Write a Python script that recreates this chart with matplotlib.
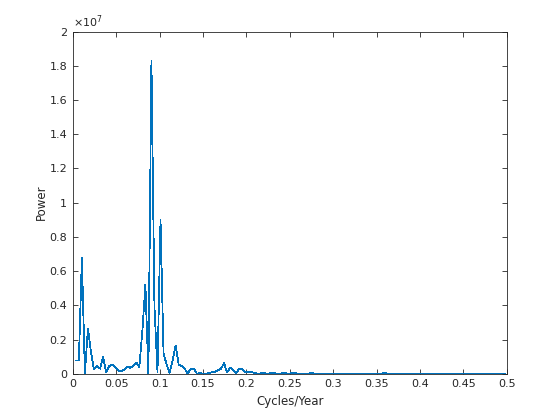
import numpy as np
import matplotlib.pyplot as plt
from matplotlib.ticker import FuncFormatter

# power spectrum of yearly sunspot numbers (units of 1e6)
n_years = 287
k = np.arange(1, 144)
power_1e6 = [
    0.78, 0.78, 6.75, 0.05, 2.65, 1.3, 0.25, 0.45, 0.3, 1.0,
    0.1, 0.45, 0.55, 0.4, 0.2, 0.15, 0.25, 0.42, 0.35, 0.45,
    0.65, 0.4, 2.5, 5.2, 0.0, 18.3, 3.9, 0.1, 9.0, 1.2,
    0.55, 0.05, 0.75, 1.65, 0.55, 0.45, 0.3, 0.02, 0.3, 0.3,
    0.02, 0.03, 0.02, 0.02, 0.03, 0.1, 0.12, 0.2, 0.3, 0.62,
    0.08, 0.35, 0.25, 0.02, 0.3, 0.3, 0.1, 0.12, 0.1, 0.05,
    0.02, 0.01, 0.08, 0.01, 0.02, 0.08, 0.02, 0.01, 0.02, 0.08,
    0.01, 0.02, 0.08, 0.02, 0.01, 0.01, 0.02, 0.01, 0.06, 0.01,
    0.01, 0.02, 0.01, 0.01, 0.01, 0.02, 0.01, 0.01, 0.01, 0.01,
    0.02, 0.01, 0.01, 0.01, 0.01, 0.01, 0.02, 0.01, 0.01, 0.01,
    0.01, 0.01, 0.06, 0.01, 0.01, 0.01, 0.01, 0.01, 0.01, 0.01,
    0.01, 0.01, 0.01, 0.01, 0.01, 0.01, 0.01, 0.01, 0.01, 0.01,
    0.01, 0.01, 0.01, 0.01, 0.01, 0.01, 0.01, 0.01, 0.01, 0.01,
    0.01, 0.01, 0.01, 0.01, 0.01, 0.01, 0.01, 0.01, 0.01, 0.01,
    0.01, 0.01, 0.01,
]
freq = k / n_years
power = np.array(power_1e6) * 1e6

xticks = np.arange(0, 0.51, 0.05)
yticks = np.arange(0, 2.01e7, 0.2e7)

ink = '#262626'
plt.rcParams['font.family'] = 'DejaVu Sans'
fig = plt.figure(figsize=(5.6, 4.2), dpi=100)
ax = fig.add_axes([0.13, 0.11, 0.775, 0.815])
ax.plot(freq, power, color='#0072BD', lw=0.55, antialiased=False)
ax.set_xlim(0, 0.5)
ax.set_ylim(0, 2e7)
ax.set_xticks(xticks)
ax.set_yticks(yticks)
ax.xaxis.set_major_formatter(FuncFormatter(lambda v, p: '%g' % round(v, 2)))
ax.yaxis.set_major_formatter(FuncFormatter(lambda v, p: '%g' % round(v / 1e7, 1)))
ax.tick_params(direction='in', length=3.5, width=0.6, top=True, right=True,
               labelsize=8, colors=ink, pad=4)
for s in ax.spines.values():
    s.set_color(ink)
    s.set_linewidth(0.6)
ax.set_xlabel('Cycles/Year', fontsize=8.5, color=ink)
ax.set_ylabel('Power', fontsize=8.5, color=ink, labelpad=1)
ax.text(0.0, 1.005, r'$\times10^{7}$', transform=ax.transAxes, fontsize=8,
        color=ink, ha='left', va='bottom')
fig.savefig('out.png', dpi=100)
